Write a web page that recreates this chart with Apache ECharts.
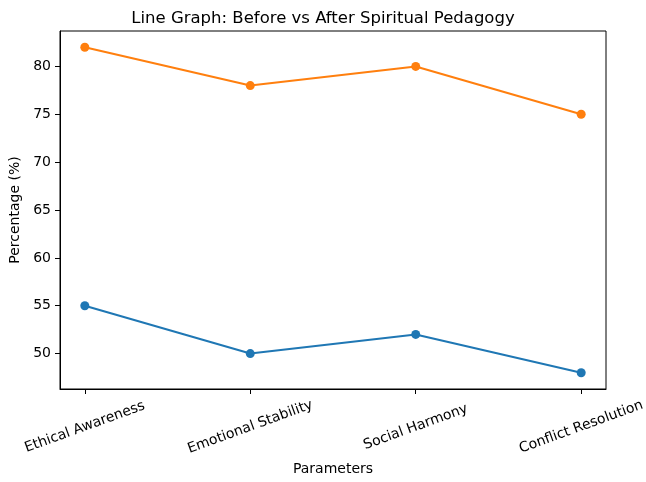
<!DOCTYPE html>
<html>
<head>
<meta charset="utf-8">
<script src="https://cdn.jsdelivr.net/npm/echarts@6/dist/echarts.min.js"></script>
<style>html,body{margin:0;padding:0;background:#fff}#c{width:646px;height:482px}</style>
</head>
<body>
<div id="c"></div>
<script>
var categories = ['Ethical Awareness', 'Emotional Stability', 'Social Harmony', 'Conflict Resolution'];
var beforeValues = [55, 50, 52, 48];
var afterValues = [82, 78, 80, 75];
var yTicks = [50, 55, 60, 65, 70, 75, 80];

var font = 'DejaVu Sans';
var chart = echarts.init(document.getElementById('c'), null, {renderer: 'canvas'});
function pairs(vals) { return vals.map(function (v, i) { return [i, v]; }); }
chart.setOption({
  animation: false,
  backgroundColor: '#fff',
  title: {
    text: 'Line Graph: Before vs After Spiritual Pedagogy',
    left: 'center', top: 5,
    textStyle: {fontFamily: font, fontSize: 16.5, fontWeight: 'normal', color: '#000'}
  },
  grid: {left: 60, right: 40, top: 31, bottom: 93, outerBoundsMode: 'none', containLabel: false,
         show: true, borderColor: '#000', borderWidth: 1, backgroundColor: 'transparent'},
  xAxis: {
    type: 'value', min: -0.15, max: 3.15,
    name: 'Parameters', nameLocation: 'middle', nameGap: 72,
    nameTextStyle: {fontFamily: font, fontSize: 14, color: '#000'},
    axisLine: {show: true, onZero: false, lineStyle: {color: '#000', width: 1}},
    axisTick: {show: true, length: 5, lineStyle: {color: '#000'}, customValues: [0, 1, 2, 3]},
    axisLabel: {
      customValues: [0, 1, 2, 3],
      formatter: function (v) { return categories[Math.round(v)]; },
      rotate: 20, align: 'center', verticalAlign: 'middle', margin: 38,
      fontFamily: font, fontSize: 14, color: '#000'
    },
    splitLine: {show: false}
  },
  yAxis: {
    type: 'value', min: 46.3, max: 83.7,
    name: 'Percentage (%)', nameLocation: 'middle', nameGap: 38,
    nameTextStyle: {fontFamily: font, fontSize: 14, color: '#000'},
    axisLine: {show: true, onZero: false, lineStyle: {color: '#000', width: 1}},
    axisTick: {show: true, length: 5, lineStyle: {color: '#000'}, customValues: yTicks},
    axisLabel: {customValues: yTicks, margin: 9, fontFamily: font, fontSize: 14, color: '#000'},
    splitLine: {show: false}
  },
  series: [
    {name: 'Before', type: 'line', data: pairs(beforeValues), color: '#1f77b4',
     symbol: 'circle', symbolSize: 9, lineStyle: {width: 2}, itemStyle: {color: '#1f77b4'}},
    {name: 'After', type: 'line', data: pairs(afterValues), color: '#ff7f0e',
     symbol: 'circle', symbolSize: 9, lineStyle: {width: 2}, itemStyle: {color: '#ff7f0e'}}
  ]
});
</script>
</body>
</html>
